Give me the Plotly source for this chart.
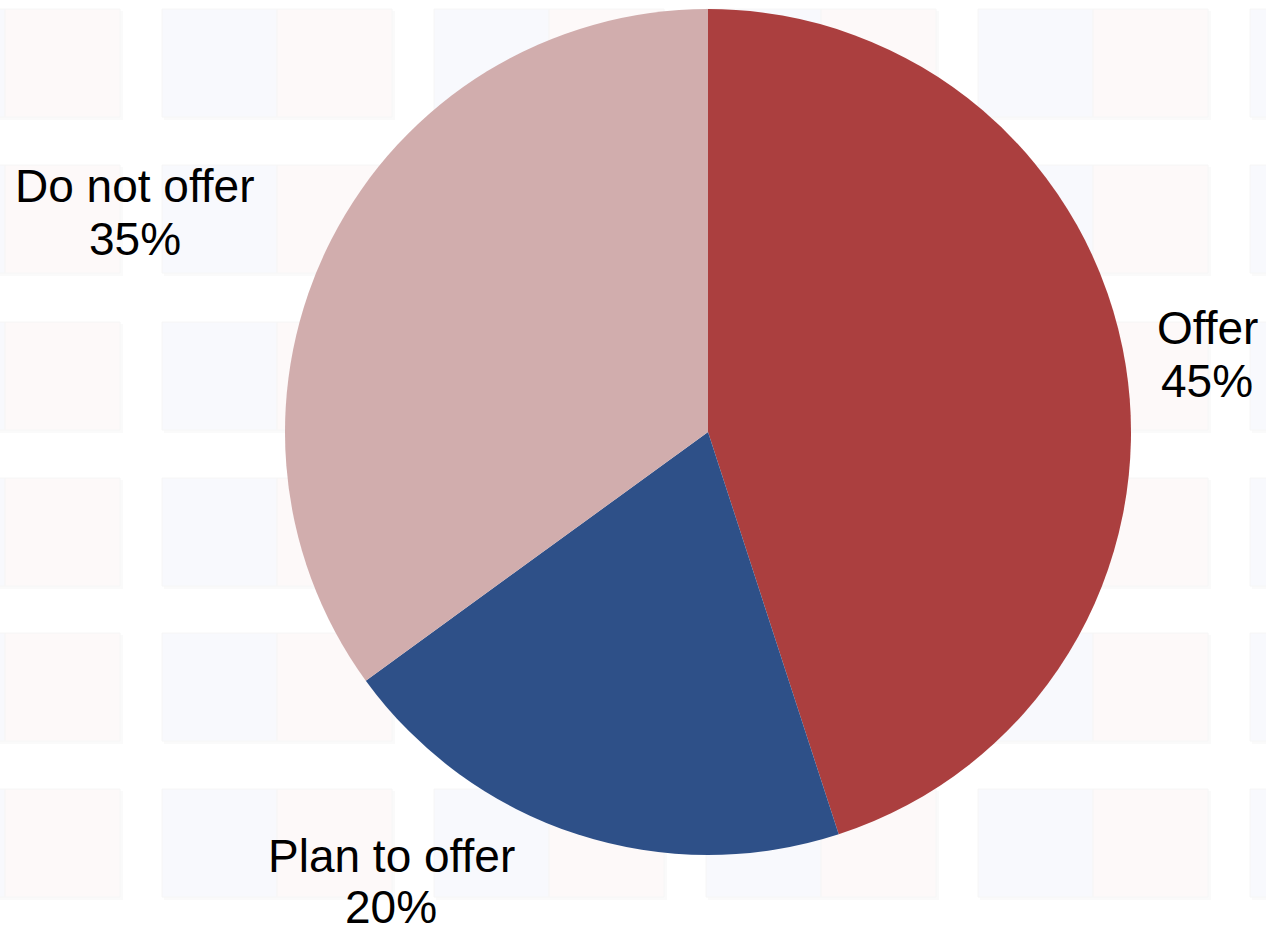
import plotly.graph_objects as go

# Survey shares
categories = ["Offer", "Plan to offer", "Do not offer"]
shares = [45, 20, 35]
colors = ["#ab3f3f", "#2e5088", "#d1adad"]

W, H = 1266, 933


def px_x(v):
    return v / W


def px_y(v):
    return 1 - v / H


fig = go.Figure()

fig.add_trace(go.Pie(
    labels=categories,
    values=shares,
    sort=False,
    direction="clockwise",
    rotation=0,
    marker=dict(colors=colors, line=dict(width=0)),
    textinfo="none",
    hoverinfo="label+percent",
    showlegend=False,
    domain=dict(x=[px_x(708 - 423), px_x(708 + 423)],
                y=[px_y(432 + 423), px_y(432 - 423)]),
))

# Faint tiled backdrop
shapes = []
row_tops = [9, 165, 322, 478, 633, 789]
tile_h = 108
tile_w = 115
for top in row_tops:
    for k in range(-1, 5):
        x0 = 162 + 272 * k
        for j, fill in enumerate(["#f8f9fd", "#fdf9f9"]):
            a = x0 + j * tile_w
            b = a + tile_w
            # soft shadow
            shapes.append(dict(type="rect", xref="paper", yref="paper",
                               x0=px_x(a + 2), x1=px_x(b + 3),
                               y0=px_y(top + tile_h + 3), y1=px_y(top + 2),
                               fillcolor="#fafafa", line=dict(width=0),
                               layer="below"))
            shapes.append(dict(type="rect", xref="paper", yref="paper",
                               x0=px_x(a), x1=px_x(b),
                               y0=px_y(top + tile_h), y1=px_y(top),
                               fillcolor=fill, line=dict(width=1, color="#f6f6f6"),
                               layer="below"))

# Slice labels: name on one line, percentage beneath
label_pos = {
    "Offer": (1207, 328, 381),
    "Plan to offer": (391, 856, 907),
    "Do not offer": (135, 186, 239),
}
annotations = []
font = dict(family="Liberation Sans, Arial, sans-serif", size=46, color="#000000")
for name, val in zip(categories, shares):
    cx, y1, y2 = label_pos[name]
    annotations.append(dict(text=name, x=px_x(cx), y=px_y(y1), xref="paper", yref="paper",
                            xanchor="center", yanchor="middle", showarrow=False, font=font))
    annotations.append(dict(text=f"{val}%", x=px_x(cx), y=px_y(y2), xref="paper", yref="paper",
                            xanchor="center", yanchor="middle", showarrow=False, font=font))

fig.update_layout(
    width=W, height=H,
    margin=dict(l=0, r=0, t=0, b=0),
    paper_bgcolor="#ffffff",
    plot_bgcolor="#ffffff",
    shapes=shapes,
    annotations=annotations,
)

fig.write_html("out.html", config={"displayModeBar": False})
